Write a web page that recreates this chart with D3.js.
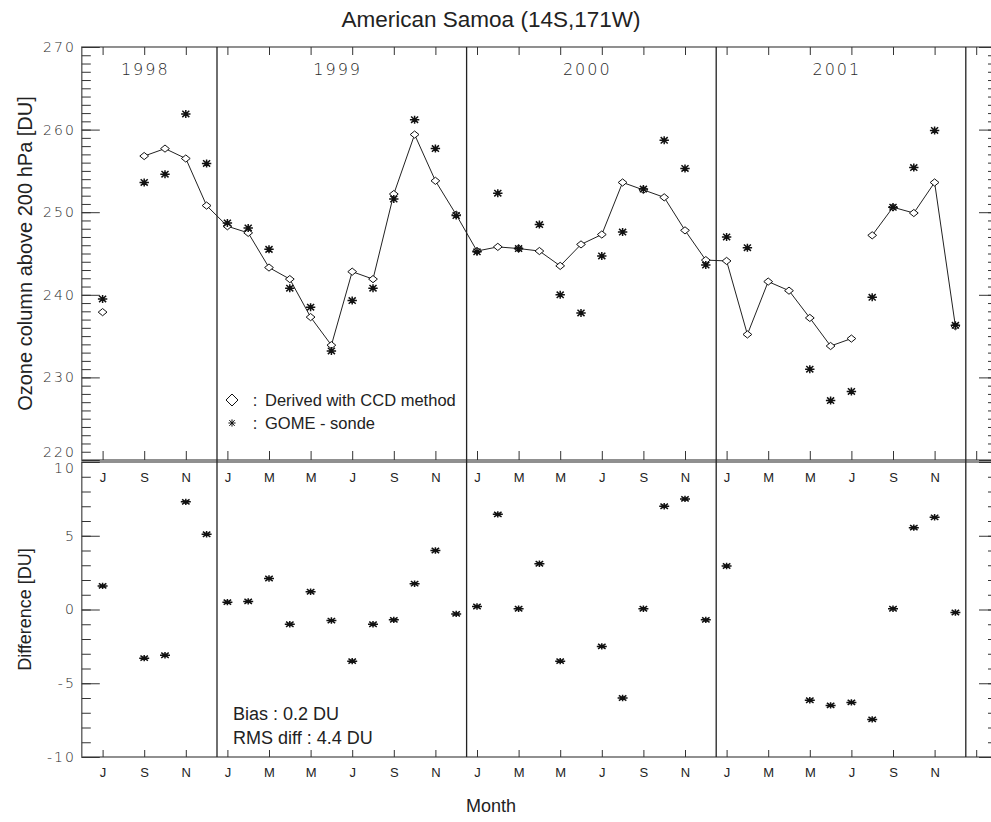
<!DOCTYPE html>
<html lang="en">
<head>
    <meta charset="utf-8" />
    <title>American Samoa (14S,171W)</title>
    <style>
        body {
            margin: 0;
            background-color: white;
        }

        text {
            font-family: 'Liberation Sans', Arial, Helvetica, sans-serif;
            fill: #222;
        }

        text.hershey {
            font-family: 'DejaVu Sans', sans-serif;
            font-weight: 300;
            letter-spacing: 2px;
            fill: #2a2a2a;
        }

        path.ccd-line {
            fill: none;
            stroke: #222;
            stroke-width: 1;
        }

        path.diamond {
            fill: white;
            stroke: #111;
            stroke-width: 1;
        }

        path.star {
            fill: none;
            stroke: #111;
            stroke-width: 1.5;
        }

        rect.frame {
            fill: none;
            stroke: #555;
            stroke-width: 1.3;
        }

        line.divider {
            stroke: #222;
            stroke-width: 1.3;
        }
    </style>
    <script src="https://d3js.org/d3.v7.min.js"></script>
</head>
<body>
    <svg id="vis" width="991" height="822"></svg>
    <script type="text/javascript">
        // monthly values, Jul 1998 .. Dec 2001 (index 0 = Jul 1998)
        var years = ["1998", "1999", "2000", "2001"];
        var monthLetters = ["J", "F", "M", "A", "M", "J", "J", "A", "S", "O", "N", "D"];

        var ccd = [
            237.9, null, 256.8, 257.7, 256.5, 250.8,
            248.3, 247.5, 243.3, 241.9, 237.3, 233.9, 242.8, 241.9, 252.2, 259.4, 253.8, 249.7,
            245.3, 245.8, 245.6, 245.3, 243.5, 246.1, 247.3, 253.6, 252.7, 251.8, 247.8, 244.2,
            244.1, 235.2, 241.6, 240.5, 237.2, 233.8, 234.7, 247.2, 250.6, 249.9, 253.6, 236.2
        ];

        var sonde = [
            239.5, null, 253.6, 254.6, 261.9, 255.9,
            248.7, 248.1, 245.5, 240.8, 238.5, 233.2, 239.3, 240.8, 251.6, 261.2, 257.7, 249.6,
            245.2, 252.3, 245.6, 248.5, 240.0, 237.8, 244.7, 247.6, 252.8, 258.7, 255.3, 243.6,
            247.0, 245.7, null, null, 231.0, 227.2, 228.3, 239.7, 250.6, 255.4, 259.9, 236.3
        ];

        var diff = [
            1.6, null, -3.3, -3.1, 7.3, 5.1,
            0.5, 0.55, 2.1, -1.0, 1.2, -0.75, -3.5, -1.0, -0.7, 1.75, 4.0, -0.3,
            0.2, 6.45, 0.05, 3.1, -3.5, null, -2.5, -6.0, 0.05, 7.0, 7.5, -0.7,
            2.95, null, null, null, -6.15, -6.5, -6.3, -7.45, 0.05, 5.55, 6.25, -0.2
        ];

        // CCD line restarts here (Aug 2001) without joining the previous month
        var lineBreaks = [37];

        var stats = ["Bias : 0.2 DU", "RMS diff : 4.4 DU"];

        var firstMonth = 6; // July
        var rows = ccd.map(function (v, i) { return { m: i, ccd: v, sonde: sonde[i], diff: diff[i] }; });

        var width = 991, height = 822;
        var left = 81.8, right = 997;
        var topPanel = { top: 47, bottom: 460 };
        var botPanel = { top: 462, bottom: 757 };

        var svg = d3.select("#vis");

        var x = d3.scaleLinear().domain([-1, 43]).range([left, right]);
        var yTop = d3.scaleLinear().domain([220, 270]).range([topPanel.bottom, topPanel.top]);
        var yBot = d3.scaleLinear().domain([-10, 10]).range([botPanel.bottom, botPanel.top]);

        var tickMonths = d3.range(0, 43, 2);
        var monthLabel = function (m) { return m > 41 ? "" : monthLetters[(m + firstMonth) % 12]; };

        function diamondPath(w, h) {
            return "M0," + (-h) + "L" + w + ",0L0," + h + "L" + (-w) + ",0Z";
        }
        function starPath(rx, ry) {
            var dx = rx * 0.75, dy = ry * 0.8;
            return "M" + (-rx) + ",0L" + rx + ",0M0," + (-ry) + "L0," + ry +
                "M" + (-dx) + "," + (-dy) + "L" + dx + "," + dy +
                "M" + (-dx) + "," + dy + "L" + dx + "," + (-dy);
        }
        function noDomain(g) { g.select(".domain").remove(); }

        // frames
        svg.append("rect").attr("class", "frame")
            .attr("x", left).attr("y", topPanel.top)
            .attr("width", right - left).attr("height", topPanel.bottom - topPanel.top);
        svg.append("rect").attr("class", "frame")
            .attr("x", left).attr("y", botPanel.top)
            .attr("width", right - left).attr("height", botPanel.bottom - botPanel.top);

        // y axes, top panel
        var yTopMajor = d3.range(220, 271, 10);
        svg.append("g").attr("transform", "translate(" + left + ",0)").style("color", "#333")
            .call(d3.axisLeft(yTop).tickValues(d3.range(220, 271, 1)).tickSize(-9).tickFormat("")).call(noDomain);
        var yTopAxis = svg.append("g").attr("transform", "translate(" + left + ",0)").style("color", "#333")
            .call(d3.axisLeft(yTop).tickValues(yTopMajor).tickSize(-18).tickPadding(6).tickFormat(d3.format("d"))).call(noDomain);
        svg.append("g").attr("transform", "translate(" + right + ",0)").style("color", "#333")
            .call(d3.axisRight(yTop).tickValues(d3.range(220, 271, 1)).tickSize(-9).tickFormat("")).call(noDomain);
        svg.append("g").attr("transform", "translate(" + right + ",0)").style("color", "#333")
            .call(d3.axisRight(yTop).tickValues(yTopMajor).tickSize(-18).tickFormat("")).call(noDomain);

        // y axes, bottom panel
        var yBotMajor = d3.range(-10, 11, 5);
        svg.append("g").attr("transform", "translate(" + left + ",0)").style("color", "#333")
            .call(d3.axisLeft(yBot).tickValues(d3.range(-10, 11, 1)).tickSize(-9).tickFormat("")).call(noDomain);
        var yBotAxis = svg.append("g").attr("transform", "translate(" + left + ",0)").style("color", "#333")
            .call(d3.axisLeft(yBot).tickValues(yBotMajor).tickSize(-18).tickPadding(6)
                .tickFormat(function (d) { return d < 0 ? "-" + Math.abs(d) : "" + d; })).call(noDomain);
        svg.append("g").attr("transform", "translate(" + right + ",0)").style("color", "#333")
            .call(d3.axisRight(yBot).tickValues(d3.range(-10, 11, 1)).tickSize(-9).tickFormat("")).call(noDomain);
        svg.append("g").attr("transform", "translate(" + right + ",0)").style("color", "#333")
            .call(d3.axisRight(yBot).tickValues(yBotMajor).tickSize(-18).tickFormat("")).call(noDomain);

        [yTopAxis, yBotAxis].forEach(function (g) {
            g.attr("font-size", null).attr("font-family", null);
            g.selectAll("text").attr("class", "hershey").style("font-size", "14px");
        });
        yTopAxis.selectAll("text").filter(function (d) { return d == 220; }).attr("y", -8);
        yBotAxis.selectAll("text").filter(function (d) { return d == 10; }).attr("y", 6);

        // x axes
        svg.append("g").attr("transform", "translate(0," + topPanel.top + ")").style("color", "#333")
            .call(d3.axisTop(x).tickValues(tickMonths).tickSize(-8).tickFormat("")).call(noDomain);
        svg.append("g").attr("transform", "translate(0," + topPanel.bottom + ")").style("color", "#333")
            .call(d3.axisBottom(x).tickValues(tickMonths).tickSize(-9).tickFormat("")).call(noDomain);
        var xInner = svg.append("g").attr("transform", "translate(0," + botPanel.top + ")").style("color", "#333")
            .call(d3.axisBottom(x).tickValues(tickMonths).tickSize(0).tickPadding(11).tickFormat(monthLabel)).call(noDomain);
        var xOuter = svg.append("g").attr("transform", "translate(0," + botPanel.bottom + ")").style("color", "#333")
            .call(d3.axisBottom(x).tickValues(tickMonths).tickSize(-7).tickPadding(11).tickFormat(monthLabel)).call(noDomain);
        [xInner, xOuter].forEach(function (g) {
            g.attr("font-size", 13).attr("font-family", "'Liberation Sans', Arial, sans-serif");
        });

        // year dividers
        var dividers = d3.range(years.length).map(function (i) { return 5.5 + 12 * i; });
        svg.append("g").selectAll("line.divider").data(dividers)
            .enter().append("line").attr("class", "divider")
            .attr("x1", function (d) { return x(d); }).attr("x2", function (d) { return x(d); })
            .attr("y1", topPanel.top).attr("y2", botPanel.bottom);

        // year labels centred in the visible part of each year
        svg.append("g").selectAll("text").data(years)
            .enter().append("text").attr("class", "hershey")
            .attr("x", function (d, i) {
                var a = Math.max(x.domain()[0], -6.5 + 12 * i), b = 5.5 + 12 * i;
                return x((a + b) / 2 - 0.2);
            })
            .attr("y", 69).attr("text-anchor", "middle").attr("dominant-baseline", "central")
            .style("font-size", "16px").text(function (d) { return d; });

        // CCD line, split at gaps and breaks
        var segments = [], cur = [];
        rows.forEach(function (d) {
            if (d.ccd == null || lineBreaks.indexOf(d.m) >= 0) {
                if (cur.length) segments.push(cur);
                cur = [];
            }
            if (d.ccd != null) cur.push(d);
        });
        if (cur.length) segments.push(cur);

        var lineGen = d3.line().x(function (d) { return x(d.m); }).y(function (d) { return yTop(d.ccd); });
        svg.append("g").selectAll("path").data(segments.filter(function (s) { return s.length > 1; }))
            .enter().append("path").attr("class", "ccd-line").attr("d", lineGen);

        svg.append("g").selectAll("path").data(rows.filter(function (d) { return d.ccd != null; }))
            .enter().append("path").attr("class", "diamond").attr("d", diamondPath(4.4, 3.6))
            .attr("transform", function (d) { return "translate(" + x(d.m) + "," + yTop(d.ccd) + ")"; });

        svg.append("g").selectAll("path").data(rows.filter(function (d) { return d.sonde != null; }))
            .enter().append("path").attr("class", "star").attr("d", starPath(4.7, 4))
            .attr("transform", function (d) { return "translate(" + x(d.m) + "," + yTop(d.sonde) + ")"; });

        // differences
        svg.append("g").selectAll("path").data(rows.filter(function (d) { return d.diff != null; }))
            .enter().append("path").attr("class", "star").attr("d", starPath(5, 3.2))
            .attr("transform", function (d) { return "translate(" + x(d.m) + "," + yBot(d.diff) + ")"; });

        // legend
        var legend = svg.append("g");
        legend.append("path").attr("class", "diamond").attr("d", diamondPath(6, 6)).attr("stroke-width", 1.2)
            .attr("transform", "translate(232,400)");
        legend.append("path").attr("class", "star").attr("d", starPath(3.6, 3.6)).style("stroke-width", 1)
            .attr("transform", "translate(232,423)");
        legend.selectAll("text.colon").data([400, 423]).enter().append("text").attr("class", "colon")
            .attr("x", 255).attr("y", function (d) { return d; }).attr("text-anchor", "middle")
            .attr("dominant-baseline", "central").style("font-size", "16.5px").text(":");
        legend.selectAll("text.label").data(["Derived with CCD method", "GOME - sonde"]).enter().append("text")
            .attr("class", "label").attr("x", 265).attr("y", function (d, i) { return 400 + i * 23; })
            .attr("dominant-baseline", "central").style("font-size", "16.5px").text(function (d) { return d; });

        // statistics
        svg.append("g").selectAll("text").data(stats).enter().append("text")
            .attr("x", 233).attr("y", function (d, i) { return 714 + i * 24.3; })
            .attr("dominant-baseline", "central").style("font-size", "18px").text(function (d) { return d; });

        // titles
        svg.append("text").attr("x", 491).attr("y", 27).attr("text-anchor", "middle")
            .style("font-size", "22.5px").text("American Samoa (14S,171W)");
        svg.append("text").attr("transform", "translate(32," + ((topPanel.top + topPanel.bottom) / 2) + ") rotate(-90)")
            .attr("text-anchor", "middle").style("font-size", "20px").text("Ozone column above 200 hPa [DU]");
        svg.append("text").attr("transform", "translate(31," + ((botPanel.top + botPanel.bottom) / 2) + ") rotate(-90)")
            .attr("text-anchor", "middle").style("font-size", "18px").text("Difference [DU]");
        svg.append("text").attr("x", 491).attr("y", 812).attr("text-anchor", "middle")
            .style("font-size", "18px").text("Month");
    </script>
</body>
</html>
